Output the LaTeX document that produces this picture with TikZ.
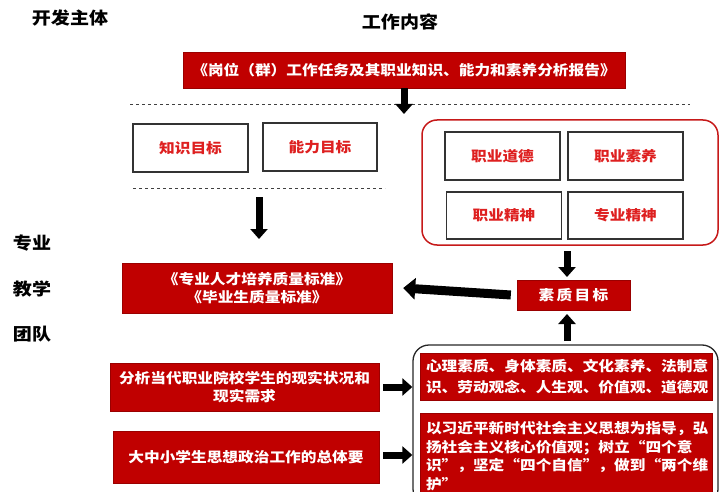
\documentclass[tikz,border=0pt]{standalone}
\usepackage{fontspec}
\setmainfont{Noto Sans CJK SC}[FakeStretch=1.12]
\usetikzlibrary{arrows.meta}
\definecolor{deepred}{RGB}{192,0,0}
\definecolor{textred}{RGB}{222,32,32}

\begin{document}
\begin{tikzpicture}[x=1pt,y=-1pt,
    redbox/.style={draw=deepred!80!black, fill=deepred, text=white, font=\bfseries\fontsize{14}{18}\selectfont, inner sep=2pt, align=center},
    goalbox/.style={draw=black!80, line width=1.3pt, fill=white, text=textred, font=\bfseries\fontsize{14}{16}\selectfont, minimum width=115pt, minimum height=48pt},
    heading/.style={font=\bfseries\fontsize{17}{20}\selectfont},
    bigarrow/.style={line width=7pt, -{Triangle[width=17pt,length=10pt]}},
    dashsep/.style={dashed, line width=1pt, black!75}]
\useasboundingbox (0,0) rectangle (720,492);

% headings
\node[heading] (owner) at (70,18) {开发主体};
\node[heading] (content) at (400,22) {工作内容};
\node[heading] (team1) at (32,243) {专业};
\node[heading] (team2) at (32,289) {教学};
\node[heading] (team3) at (32,334) {团队};

% analysis report
\node[redbox, minimum width=442pt, minimum height=36pt] (report) at (404,70) {《岗位（群）工作任务及其职业知识、能力和素养分析报告》};
\draw[dashsep] (130,105) -- (690,105);
\coordinate (r1) at (404,114);
\draw[bigarrow] (report.south) -- (r1);

% knowledge and ability
\node[goalbox] (knowledge) at (190.5,148) {知识目标};
\node[goalbox, minimum width=114pt] (ability) at (320,147) {能力目标};
\draw[dashsep] (133,188) -- (385,188);
\coordinate (a1) at (259,197);
\coordinate (a2) at (259,239);
\draw[bigarrow] (a1) -- (a2);
\node[redbox, minimum width=270pt, minimum height=50pt, font=\bfseries\fontsize{14}{18}\selectfont] (standard) at (257,288) {《专业人才培养质量标准》\\《毕业生质量标准》};

% quality
\node[draw=deepred!90, line width=1.5pt, rounded corners=15pt, minimum width=296pt, minimum height=125pt] (qualframe) at (570,182.5) {};
\node[goalbox] (ethics) at (502.5,156) {职业道德};
\node[goalbox] (literacy) at (625.5,156) {职业素养};
\node[goalbox, minimum height=47pt] (spirit) at (504,215.5) {职业精神};
\node[goalbox, minimum height=47pt] (major) at (625.5,215.5) {专业精神};
\node[redbox, minimum width=113pt, minimum height=30pt] (quality) at (573.5,295) {素\,质\,目\,标};
\coordinate (q1) at (567,251);
\coordinate (q2) at (567,277);
\draw[bigarrow] (q1) -- (q2);
\coordinate (q3) at (567,341);
\coordinate (q4) at (567,314);
\draw[bigarrow] (q3) -- (q4);
\draw[bigarrow, line width=9pt, -{Triangle[width=21pt,length=12pt]}] ([xshift=-6pt]quality.west) -- ([xshift=11pt]standard.east);

% basis
\node[draw=black!85, line width=1.3pt, rounded corners=16pt, minimum width=305pt, minimum height=160pt] (basisframe) at (565.5,425) {};
\node[redbox, minimum width=292pt, minimum height=47pt, text width=280pt, align=left, font=\bfseries\fontsize{14}{21}\selectfont] (psych) at (566,376.5) {心理素质、身体素质、文化素养、法制意\\识、劳动观念、人生观、价值观、道德观};
\node[redbox, minimum width=292pt, minimum height=86pt, text width=280pt, align=left, font=\bfseries\fontsize{14}{18.5}\selectfont] (ideology) at (566,456) {以习近平新时代社会主义思想为指导，弘\\扬社会主义核心价值观；树立“四个意\\识”，坚定“四个自信”，做到“两个维\\护”};
\node[redbox, minimum width=269pt, minimum height=48pt] (analysis) at (244.5,387) {分析当代职业院校学生的现实状况和\\现实需求};
\node[redbox, minimum width=266pt, minimum height=52pt] (general) at (246,457) {大中小学生思想政治工作的总体要};
\draw[bigarrow] ([xshift=4pt]analysis.east) -- (basisframe.west |- analysis.east);
\draw[bigarrow] ([xshift=4pt]general.east |- 0,455) -- (basisframe.west |- 0,455);
\end{tikzpicture}
\end{document}
